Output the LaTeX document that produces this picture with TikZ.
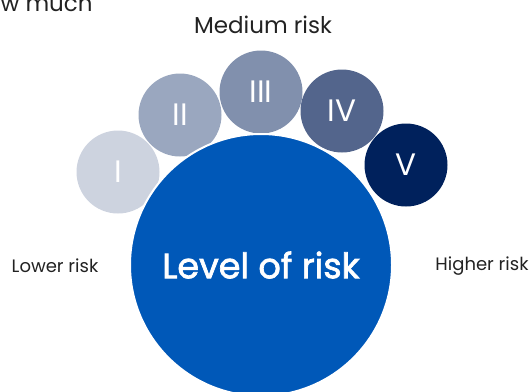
\documentclass[tikz,border=0pt]{standalone}
\usepackage{fontspec}
\setmainfont{Poppins}
\newfontfamily\heavyfont[FakeBold=2]{Poppins}
\usetikzlibrary{calc,positioning}
\definecolor{riskI}{HTML}{CDD3DF}
\definecolor{riskII}{HTML}{9AA7BF}
\definecolor{riskIII}{HTML}{8190AD}
\definecolor{riskIV}{HTML}{53658C}
\definecolor{riskV}{HTML}{00215C}
\definecolor{riskbig}{HTML}{0058B8}
\definecolor{labelgrey}{HTML}{222222}
\tikzset {
  level/.style={circle,inner sep=0pt,minimum size=83pt,
    text=white,font=\fontsize{31}{31}\selectfont},
  side/.style={text=labelgrey,font=\fontsize{18}{18}\selectfont}}

\begin{document}
\begin{tikzpicture}[x=1pt,y=-1pt]
\useasboundingbox (0,0) rectangle (529,391);
\clip (0,0) rectangle (529,391);
\node[anchor=base west,side,font=\fontsize{23}{23}\selectfont] (head) at (-3,11) {w much};
\node[side,font=\fontsize{23}{23}\selectfont] (mid) at (263,25) {Medium risk};
\node[level,fill=riskI] (l1) at (118,172) {I};
\node[level,fill=riskII] (l2) at (180,115) {II};
\node[level,fill=riskIII] (l3) at (261,92) {III};
\node[level,fill=riskIV] (l4) at (342,111) {IV};
\node[level,fill=riskV] (l5) at (406,165) {V};
\node[circle,inner sep=0pt,minimum size=262pt,fill=riskbig,
  draw=white,line width=2pt,text=white,
  font=\fontsize{35}{35}\heavyfont] (big) at (261,265) {Level of risk};
\node[side] (low) at (55,266) {Lower risk};
\node[side] (high) at (482,266) {Higher risk};
\end{tikzpicture}
\end{document}
